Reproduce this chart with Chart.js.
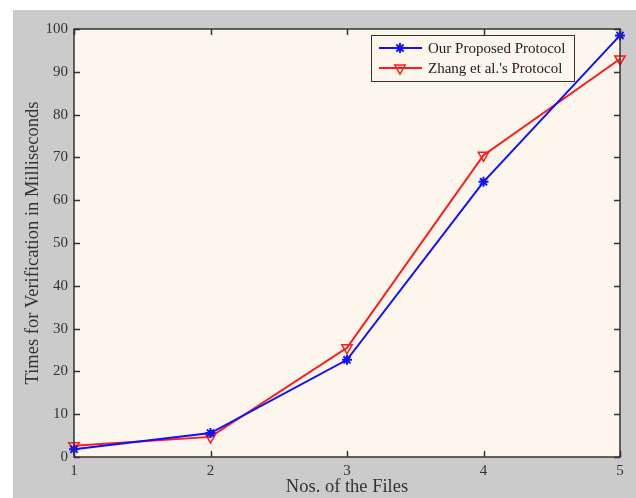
<!DOCTYPE html>
<html>
<head>
<meta charset="utf-8">
<script src="https://cdn.jsdelivr.net/npm/chart.js@4/dist/chart.umd.min.js"></script>
<style>
  html, body { margin: 0; padding: 0; background: #fff; }
  #frame { position: absolute; left: 13px; top: 10px; width: 623px; height: 488px; background: #cbcbcb; }
</style>
</head>
<body>
<div id="frame"><canvas id="c" width="623" height="488"></canvas></div>
<script>
// values
const files = ['1', '2', '3', '4', '5'];
const ourProtocol = [1.8, 5.6, 22.7, 64.3, 98.5];
const zhangProtocol = [2.6, 4.7, 25.5, 70.5, 93.0];
const yTicks = [0, 10, 20, 30, 40, 50, 60, 70, 80, 90, 100];

const serif = '"Liberation Serif", "Times New Roman", serif';
const axisCol = '#333';

// plot background + MATLAB style box with inward ticks + legend in the corner
const matlabAxes = {
  id: 'matlabAxes',
  beforeDatasetsDraw(chart) {
    const { ctx, chartArea: a } = chart;
    ctx.save();
    ctx.fillStyle = '#fdf6ec';
    ctx.fillRect(a.left, a.top, a.right - a.left, a.bottom - a.top);
    ctx.restore();
  },
  afterDraw(chart) {
    const { ctx, chartArea: a, scales } = chart;
    const tl = 6;
    ctx.save();
    ctx.strokeStyle = axisCol;
    ctx.lineWidth = 1.5;
    ctx.strokeRect(a.left, a.top, a.right - a.left, a.bottom - a.top);
    ctx.beginPath();
    yTicks.forEach(v => {
      const y = Math.round(scales.y.getPixelForValue(v)) + 0.5;
      ctx.moveTo(a.left, y); ctx.lineTo(a.left + tl, y);
      ctx.moveTo(a.right, y); ctx.lineTo(a.right - tl, y);
    });
    files.forEach((f, i) => {
      const x = Math.round(scales.x.getPixelForValue(i)) + 0.5;
      ctx.moveTo(x, a.bottom); ctx.lineTo(x, a.bottom - tl);
      ctx.moveTo(x, a.top); ctx.lineTo(x, a.top + tl);
    });
    ctx.stroke();

    // legend box
    const bx = a.right - 249, by = a.top + 6, bw = 203, bh = 46;
    ctx.fillStyle = '#fdf6ec';
    ctx.fillRect(bx, by, bw, bh);
    ctx.strokeStyle = axisCol;
    ctx.lineWidth = 1;
    ctx.strokeRect(bx + 0.5, by + 0.5, bw, bh);
    ctx.font = '15px ' + serif;
    ctx.textBaseline = 'middle';
    chart.data.datasets.forEach((ds, i) => {
      const y = by + 13 + i * 20;
      ctx.strokeStyle = ds.borderColor;
      ctx.lineWidth = 2;
      ctx.beginPath();
      ctx.moveTo(bx + 8, y); ctx.lineTo(bx + 51, y);
      ctx.stroke();
      ctx.fillStyle = ds.pointBackgroundColor;
      ctx.lineWidth = ds.pointBorderWidth;
      Chart.helpers.drawPoint(ctx, {
        pointStyle: ds.pointStyle, radius: ds.pointRadius, rotation: ds.pointRotation || 0,
        borderWidth: ds.pointBorderWidth
      }, bx + 29, y);
      ctx.fillStyle = '#222';
      ctx.fillText(ds.label, bx + 57, y + 1);
    });
    ctx.restore();
  }
};

new Chart(document.getElementById('c'), {
  type: 'line',
  data: {
    labels: files,
    datasets: [
      {
        label: 'Our Proposed Protocol',
        data: ourProtocol,
        borderColor: '#1010ff',
        backgroundColor: '#1010ff',
        borderWidth: 2,
        pointStyle: 'star',
        pointRadius: 5,
        pointBorderWidth: 2,
        pointBorderColor: '#1010ff',
        pointBackgroundColor: '#1010ff',
        tension: 0,
        clip: false
      },
      {
        label: "Zhang et al.'s Protocol",
        data: zhangProtocol,
        borderColor: '#ff1a1a',
        backgroundColor: 'rgba(0,0,0,0)',
        borderWidth: 2,
        pointStyle: 'triangle',
        pointRotation: 180,
        pointRadius: 6,
        pointBorderWidth: 1.5,
        pointBorderColor: '#ff1a1a',
        pointBackgroundColor: 'rgba(0,0,0,0)',
        tension: 0,
        clip: false
      }
    ]
  },
  options: {
    responsive: false,
    animation: false,
    layout: { padding: { top: 19, right: 16, left: 0, bottom: 0 } },
    plugins: { legend: { display: false }, tooltip: { enabled: false } },
    scales: {
      x: {
        offset: false,
        grid: { display: false, drawTicks: false },
        border: { display: false },
        ticks: { color: axisCol, font: { family: serif, size: 15 }, padding: 5, maxRotation: 0 },
        title: { display: true, text: 'Nos. of the Files', color: axisCol, font: { family: serif, size: 18.5 }, padding: { top: 0, bottom: 0 } },
        afterFit(s) { s.height = 41; }
      },
      y: {
        min: 0,
        max: 100,
        grid: { display: false, drawTicks: false },
        border: { display: false },
        ticks: { stepSize: 10, color: axisCol, font: { family: serif, size: 15 }, padding: 6 },
        title: { display: true, text: 'Times for Verification in Milliseconds', color: axisCol, font: { family: serif, size: 18.5 }, padding: { top: 9, bottom: 0 } },
        afterFit(s) { s.width = 61; }
      }
    }
  },
  plugins: [matlabAxes]
});
</script>
</body>
</html>
